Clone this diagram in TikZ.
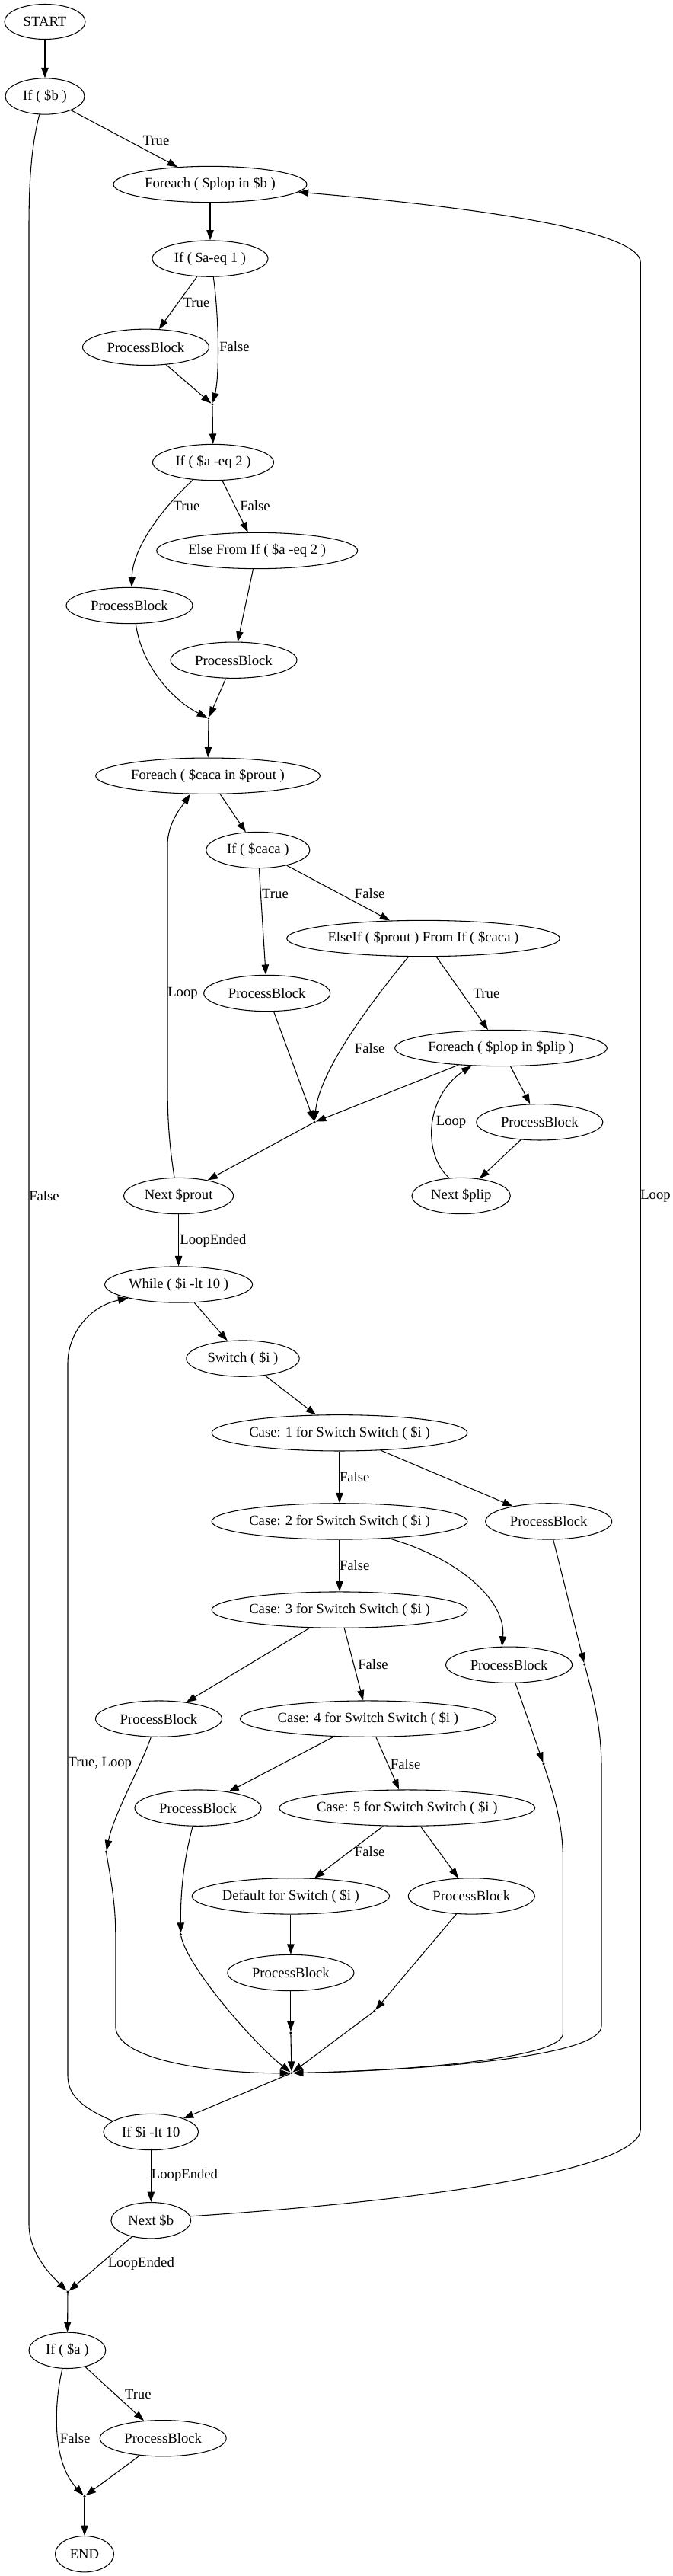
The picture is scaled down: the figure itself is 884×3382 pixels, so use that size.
\documentclass[tikz,border=0pt]{standalone}
\usepackage{fontspec}
\setmainfont{Liberation Serif}
\usetikzlibrary{arrows.meta,shapes.geometric}
\begin{document}
\begin{tikzpicture}[x=0.75pt,y=-0.75pt,
	every node/.style={font=\fontsize{14pt}{16pt}\selectfont},
	blk/.style={draw,ellipse,inner sep=0pt,minimum height=35.5pt,line width=0.8pt},
	pb/.style={blk,minimum width=124.5pt},
	joint/.style={circle,fill,inner sep=0pt,minimum size=2.6pt},
	lbl/.style={inner sep=0pt},
	arr/.style={-{Triangle[length=10pt,width=7pt]},line width=0.8pt}]
		\useasboundingbox (0,0) rectangle (884,3382);
		\node [blk,minimum width=79.5pt,minimum height=34.5pt] (start) at (59,28.5) {START};
		\node [blk,minimum width=78pt] (ifb) at (59,126.5) {If ( \$b )};
		\node [blk,minimum width=190.5pt] (fplop) at (276,242) {Foreach ( \$plop in \$b )};
		\node [blk,minimum width=114pt] (ifa1) at (276,339.6) {If ( \$a-eq 1 )};
		\node [pb] (pbA) at (191.5,455.8) {ProcessBlock};
		\node [joint] (jA) at (279,531) {};
		\node [blk,minimum width=119.25pt] (ifa2) at (280,607) {If ( \$a -eq 2 )};
		\node [blk,minimum width=198pt] (elsea2) at (337.7,723) {Else From If ( \$a -eq 2 )};
		\node [pb] (pbB) at (170,795) {ProcessBlock};
		\node [pb] (pbC) at (307,866.7) {ProcessBlock};
		\node [joint] (jB) at (274,943) {};
		\node [blk,minimum width=221pt] (fcaca) at (273,1018.7) {Foreach ( \$caca in \$prout )};
		\node [blk,minimum width=102pt] (ifcaca) at (338.8,1116) {If ( \$caca )};
		\node [blk,minimum width=269pt] (elseif) at (556,1232) {ElseIf ( \$prout ) From If ( \$caca )};
		\node [pb] (pbD) at (350.7,1304) {ProcessBlock};
		\node [blk,minimum width=209pt] (fplip) at (658,1376) {Foreach ( \$plop in \$plip )};
		\node [joint] (jC) at (413,1473.3) {};
		\node [pb] (pbE) at (708.8,1473.3) {ProcessBlock};
		\node [blk,minimum width=108pt] (nprout) at (234.6,1570) {Next \$prout};
		\node [blk,minimum width=97pt] (nplip) at (605.7,1570) {Next \$plip};
		\node [blk,minimum width=145.5pt] (while) at (234.6,1686.5) {While ( \$i -lt 10 )};
		\node [blk,minimum width=111.3pt] (switch) at (319,1783.6) {Switch ( \$i )};
		\node [blk,minimum width=250.5pt] (case1) at (446,1881.3) {Case: 1 for Switch Switch ( \$i )};
		\node [blk,minimum width=250.5pt] (case2) at (446,1997.4) {Case: 2 for Switch Switch ( \$i )};
		\node [pb] (pbF) at (720.7,1997.4) {ProcessBlock};
		\node [blk,minimum width=250.5pt] (case3) at (446,2113.6) {Case: 3 for Switch Switch ( \$i )};
		\node [pb] (pbG) at (668.6,2185.7) {ProcessBlock};
		\node [joint] (jD) at (767.7,2185) {};
		\node [pb] (pbH) at (208.5,2256.6) {ProcessBlock};
		\node [blk,minimum width=250pt] (case4) at (483.3,2256.6) {Case: 4 for Switch Switch ( \$i )};
		\node [joint] (jE) at (714,2315.8) {};
		\node [pb] (pbI) at (260,2373.6) {ProcessBlock};
		\node [blk,minimum width=250pt] (case5) at (534.8,2373.6) {Case: 5 for Switch Switch ( \$i )};
		\node [joint] (jF) at (139.4,2431.3) {};
		\node [blk,minimum width=194.5pt] (default) at (381.9,2489.4) {Default for Switch ( \$i )};
		\node [pb] (pbJ) at (619.3,2489.4) {ProcessBlock};
		\node [joint] (jG) at (237.4,2539.7) {};
		\node [pb] (pbK) at (381.9,2590) {ProcessBlock};
		\node [joint] (jH) at (491.8,2640.3) {};
		\node [joint] (jI) at (381.9,2669) {};
		\node [joint] (jM) at (383,2721.7) {};
		\node [blk,minimum width=93.5pt] (ifi) at (198.3,2799) {If \$i -lt 10};
		\node [blk,minimum width=78.6pt] (nb) at (198.3,2915.2) {Next \$b};
		\node [joint] (jN) at (89,3009) {};
		\node [blk,minimum width=75.6pt] (ifa) at (88.4,3085.8) {If ( \$a )};
		\node [pb] (pbL) at (214.2,3201.2) {ProcessBlock};
		\node [joint] (jO) at (111,3277.4) {};
		\node [blk,minimum width=57.75pt] (stop) at (111,3353.2) {END};
		\draw [arr] (start) -- (ifb);
		\draw [arr] (ifb) -- (fplop);
		\draw [arr] (fplop) -- (ifa1);
		\draw [arr] (ifa1) -- (pbA);
		\draw [arr] (ifa1.-80) .. controls (287,410) and (289,490) .. (jA);
		\draw [arr] (pbA) -- (jA);
		\draw [arr] (jA) -- (ifa2);
		\draw [arr] (ifa2.221) .. controls (212,668) and (174,720) .. (pbB.83);
		\draw [arr] (ifa2) -- (elsea2);
		\draw [arr] (elsea2) -- (pbC);
		\draw [arr] (pbB.-71) .. controls (186,875) and (228,920) .. (jB);
		\draw [arr] (pbC) -- (jB);
		\draw [arr] (jB) -- (fcaca);
		\draw [arr] (fcaca) -- (ifcaca);
		\draw [arr] (ifcaca) -- (pbD);
		\draw [arr] (ifcaca) -- (elseif);
		\draw [arr] (elseif) -- (fplip);
		\draw [arr] (elseif.-129) .. controls (488,1315) and (420,1405) .. (jC);
		\draw [arr] (pbD) -- (jC);
		\draw [arr] (fplip) -- (jC);
		\draw [arr] (jC) -- (nprout);
		\draw [arr] (fplip) -- (pbE);
		\draw [arr] (pbE) -- (nplip);
		\draw [arr] (nplip.124) .. controls (555,1515) and (558,1440) .. (fplip.-149);
		\draw [arr] (nprout.103) .. controls (222,1500) and (220,1470) .. (220,1420) -- (220,1110) .. controls (220,1080) and (238,1060) .. (fcaca.-134);
		\draw [arr] (nprout) -- (while);
		\draw [arr] (while) -- (switch);
		\draw [arr] (switch) -- (case1);
		\draw [arr] (case1) -- (case2);
		\draw [arr] (case1) -- (pbF);
		\draw [arr] (case2) -- (case3);
		\draw [arr] (case2.-19) .. controls (600,2045) and (665,2100) .. (pbG.111);
		\draw [arr] (pbF) -- (jD);
		\draw [arr] (jD) .. controls (780,2230) and (790,2270) .. (790,2320) -- (790,2660) .. controls (790,2700) and (560,2718) .. (jM);
		\draw [arr] (case3) -- (pbH);
		\draw [arr] (case3) -- (case4);
		\draw [arr] (pbG) -- (jE);
		\draw [arr] (jE) .. controls (725,2350) and (739.4,2390) .. (739.4,2440) -- (739.4,2670) .. controls (739.4,2700) and (560,2718) .. (jM);
		\draw [arr] (case4) -- (pbI);
		\draw [arr] (case4) -- (case5);
		\draw [arr] (pbH.-113) .. controls (185,2320) and (150,2380) .. (jF);
		\draw [arr] (jF) .. controls (146,2470) and (151.8,2500) .. (151.8,2540) -- (151.8,2660) .. controls (151.8,2705) and (280,2722) .. (jM);
		\draw [arr] (pbI.-106) .. controls (242,2440) and (237,2480) .. (jG);
		\draw [arr] (jG) .. controls (245,2580) and (330,2680) .. (jM);
		\draw [arr] (case5) -- (default);
		\draw [arr] (case5) -- (pbJ);
		\draw [arr] (default) -- (pbK);
		\draw [arr] (pbK) -- (jI);
		\draw [arr] (jI) -- (jM);
		\draw [arr] (pbJ) -- (jH);
		\draw [arr] (jH) -- (jM);
		\draw [arr] (jM) -- (ifi);
		\draw [arr] (ifi.164) .. controls (115,2770) and (89,2755) .. (89,2725) -- (89,1790) .. controls (89,1750) and (118,1715) .. (while.-165);
		\draw [arr] (ifi) -- (nb);
		\draw [arr] (nb.6) .. controls (550,2890) and (841.4,2850) .. (841.4,2795) -- (841.4,345) .. controls (841.4,300) and (600,270) .. (fplop.-5);
		\draw [arr] (nb) -- (jN);
		\draw [arr] (ifb.-107) .. controls (42,190) and (38,230) .. (38,300) -- (38,2920) .. controls (38,2960) and (70,2990) .. (jN);
		\draw [arr] (jN) -- (ifa);
		\draw [arr] (ifa) -- (pbL);
		\draw [arr] (ifa.-105) .. controls (72,3150) and (66,3230) .. (jO);
		\draw [arr] (pbL) -- (jO);
		\draw [arr] (jO) -- (stop);
		\node [lbl] (lT1) at (205,184) {True};
		\node [lbl] (lT2) at (258,397) {True};
		\node [lbl] (lF2) at (308,455) {False};
		\node [lbl] (lT3) at (245,664.3) {True};
		\node [lbl] (lF3) at (335,664.3) {False};
		\node [lbl] (lT4) at (361.5,1173.6) {True};
		\node [lbl] (lF4) at (485.6,1173.6) {False};
		\node [lbl] (lL1) at (240,1304) {Loop};
		\node [lbl] (lT5) at (639,1304) {True};
		\node [lbl] (lF5) at (485.6,1376) {False};
		\node [lbl] (lL2) at (592.6,1473.3) {Loop};
		\node [lbl] (lF1) at (58,1570) {False};
		\node [lbl] (lL3) at (861,1570) {Loop};
		\node [lbl] (lE1) at (280,1628.7) {LoopEnded};
		\node [lbl] (lF6) at (465.7,1939) {False};
		\node [lbl] (lF7) at (465.7,2054.8) {False};
		\node [lbl] (lF8) at (490,2185.4) {False};
		\node [lbl] (lTL) at (131.4,2315.8) {True, Loop};
		\node [lbl] (lF9) at (532.6,2315.8) {False};
		\node [lbl] (lF10) at (485.6,2431.3) {False};
		\node [lbl] (lE2) at (242.5,2856.4) {LoopEnded};
		\node [lbl] (lE3) at (185.3,2972.2) {LoopEnded};
		\node [lbl] (lT6) at (181.3,3143) {True};
		\node [lbl] (lF11) at (98.6,3201.2) {False};
\end{tikzpicture}
\end{document}
